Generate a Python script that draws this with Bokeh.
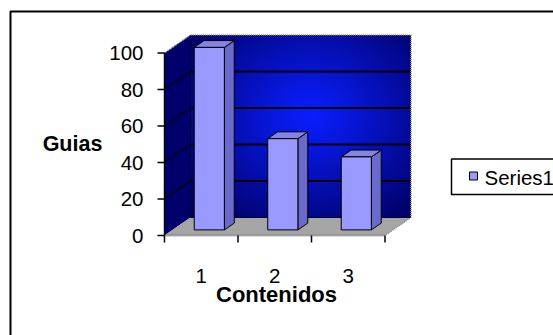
import numpy as np
from bokeh.plotting import figure
from bokeh.models import Range1d
from bokeh.embed import file_html
from bokeh.resources import INLINE
from bokeh.core.properties import value

# ---- chart data -------------------------------------------------------------
categories = ["1", "2", "3"]
guias = [100, 50, 40]
y_ticks = [0, 20, 40, 60, 80, 100]
y_tick_labels = ["0", "20", "40", "60", "80", "100"]
series_name = "Series1"
x_title = "Contenidos"
y_title = "Guias"

# ---- layout (pixels) ---------------------------------------------------------
W, H = 553, 335
AX_X = 164.0          # front value axis, px from left
CAT_W = 73.5          # px per category
ZERO_Y = 235.0        # value 0 on the front plane, px from top
PX_PER_UNIT = 1.825   # px per value unit
DEPTH_X_PX, DEPTH_Y_PX = 26.0, 18.0
BAR_WIDTH = 0.41      # fraction of a category
BAR_D0, BAR_D1 = 0.31, 0.69  # bar depth span (fraction of the floor depth)

FONT = value("Liberation Sans")

x_start = 0.5 - AX_X / CAT_W
x_end = x_start + W / CAT_W
y_top = ZERO_Y / PX_PER_UNIT
y_bottom = y_top - H / PX_PER_UNIT


def sx(px):
    """screen x (px from left) -> data x"""
    return x_start + px / CAT_W


def sy(py):
    """screen y (px from top) -> data y"""
    return y_top - py / PX_PER_UNIT


PXX = 1.0 / CAT_W
PXY = 1.0 / PX_PER_UNIT
DX = DEPTH_X_PX / CAT_W
DY = DEPTH_Y_PX / PX_PER_UNIT

n = len(categories)
xc = list(range(1, n + 1))
x0, x1 = 0.5, n + 0.5
vmax = y_ticks[-1]

p = figure(width=W, height=H, x_range=Range1d(x_start, x_end),
           y_range=Range1d(y_bottom, y_top), output_backend="svg",
           toolbar_location=None, x_axis_location=None, y_axis_location=None,
           min_border=0)
p.grid.visible = False
p.outline_line_color = None
p.background_fill_color = "white"
p.border_fill_color = "white"

# ---- chart area border ---------------------------------------------------------
p.patch([sx(10), sx(620), sx(620), sx(10)], [sy(11), sy(11), sy(400), sy(400)],
        fill_color=None, line_color="black", line_width=2)

# ---- back wall: radial blue gradient -------------------------------------------
gw, gh = 221, 183
u = (np.arange(gw) + 0.5) / gw
v = (np.arange(gh) + 0.5) / gh
U, V = np.meshgrid(u, v)
d = np.sqrt(((U - 0.54) / 0.68) ** 2 + ((V - 0.56) / 0.72) ** 2)
t = np.clip(d, 0, 1) ** 1.1
inner = np.array([10, 30, 255], dtype=float)
outer = np.array([0, 0, 100], dtype=float)
img = np.empty((gh, gw), dtype=np.uint32)
view = img.view(dtype=np.uint8).reshape((gh, gw, 4))
for k in range(3):
    view[:, :, k] = (inner[k] + (outer[k] - inner[k]) * t).astype(np.uint8)
view[:, :, 3] = 255
p.image_rgba(image=[img], x=x0 + DX, y=DY, dw=x1 - x0, dh=vmax)

# ---- side wall and floor -----------------------------------------------------------
p.patch([x0, x0 + DX, x0 + DX, x0], [0, DY, vmax + DY, vmax],
        fill_color="#00006c", line_color=None)
p.patch([x0, x1, x1 + DX, x0 + DX], [0, 0, DY, DY],
        fill_color="#a5a5a5", line_color=None)

# gridlines on back wall and side wall
grid_vals = y_ticks[1:-1]
p.segment(x0=[x0 + DX] * len(grid_vals), y0=[g + DY for g in grid_vals],
          x1=[x1 + DX] * len(grid_vals), y1=[g + DY for g in grid_vals],
          line_color="black", line_width=2)
p.segment(x0=[x0] * len(grid_vals), y0=grid_vals,
          x1=[x0 + DX] * len(grid_vals), y1=[g + DY for g in grid_vals],
          line_color="black", line_width=1.5)
# wall / floor joints
p.line([x0 + DX, x0 + DX], [DY, vmax + DY], line_color="#00003a", line_width=1)
p.line([x0 + DX, x1 + DX], [DY, DY], line_color="#00003a", line_width=1)

# dotted outer edges of walls and floor
p.line([x0, x0 + DX, x1 + DX, x1 + DX, x1],
       [vmax, vmax + DY, vmax + DY, DY, 0],
       line_color="#8c8c8c", line_width=1.5, line_dash="1 1")
p.line([x0, x1], [0, 0], line_color="#6e6e6e", line_width=2, line_dash="1 1")

# ---- bars ------------------------------------------------------------------------
bdx = (BAR_D1 - BAR_D0) * DX
bdy = (BAR_D1 - BAR_D0) * DY
fl = [c - BAR_WIDTH / 2 + BAR_D0 * DX for c in xc]
fr = [c + BAR_WIDTH / 2 + BAR_D0 * DX for c in xc]
fb = BAR_D0 * DY
ft = [g + BAR_D0 * DY for g in guias]

side_xs = [[r, r + bdx, r + bdx, r] for r in fr]
side_ys = [[fb, fb + bdy, t_ + bdy, t_] for t_ in ft]
top_xs = [[l, r, r + bdx, l + bdx] for l, r in zip(fl, fr)]
top_ys = [[t_, t_, t_ + bdy, t_ + bdy] for t_ in ft]

p.patches(side_xs, side_ys, fill_color="#6a6acc", line_color="black", line_width=1)
p.patches(top_xs, top_ys, fill_color="#8484e4", line_color="black", line_width=1)
p.quad(left=fl, right=fr, bottom=fb, top=ft,
       fill_color="#9999ff", line_color="black", line_width=1)

# ---- value axis ------------------------------------------------------------------
p.line([x0, x0], [0, vmax], line_color="black", line_width=1.5)
p.segment(x0=[x0 - 7 * PXX] * len(y_ticks), y0=y_ticks,
          x1=[x0] * len(y_ticks), y1=y_ticks, line_color="black", line_width=1.5)
p.text(x=[x0 - 21 * PXX] * len(y_ticks), y=y_ticks, text=y_tick_labels,
       text_font=FONT, text_font_size="20.5px", text_color="black",
       text_align="right", text_baseline="middle")

# ---- category axis ---------------------------------------------------------------
bounds = [x0 + k for k in range(n + 1)]
p.segment(x0=bounds, y0=[0] * len(bounds), x1=bounds, y1=[-7 * PXY] * len(bounds),
          line_color="black", line_width=1.5)
p.text(x=xc, y=[-40 * PXY] * n, text=categories,
       text_font=FONT, text_font_size="20.5px", text_color="black",
       text_align="center", text_baseline="middle")

# ---- axis titles -----------------------------------------------------------------
p.text(x=[sx(72)], y=[sy(143)], text=[y_title], text_font=FONT,
       text_font_size="21.5px", text_font_style="bold", text_color="black",
       text_align="center", text_baseline="middle")
p.text(x=[sx(276)], y=[sy(294)], text=[x_title], text_font=FONT,
       text_font_size="22px", text_font_style="bold", text_color="black",
       text_align="center", text_baseline="middle")

# ---- legend ----------------------------------------------------------------------
p.quad(left=[sx(451)], right=[sx(600)], top=[sy(158.5)], bottom=[sy(194)],
       fill_color="white", line_color="black", line_width=1.5)
p.quad(left=[sx(469)], right=[sx(477)], top=[sy(171.5)], bottom=[sy(179.5)],
       fill_color="#9999ff", line_color="black", line_width=1)
p.text(x=[sx(484)], y=[sy(176.5)], text=[series_name], text_font=FONT,
       text_font_size="20.5px", text_color="black",
       text_align="left", text_baseline="middle")

open("out.html", "w").write(file_html(p, INLINE))
